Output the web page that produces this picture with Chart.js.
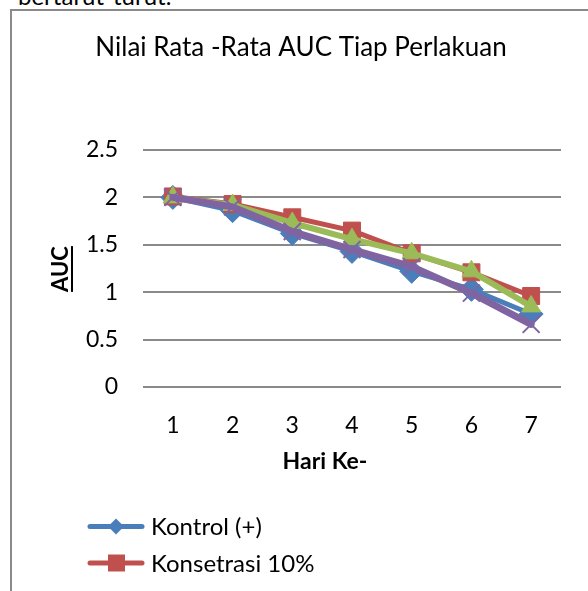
<!DOCTYPE html>
<html>
<head>
<meta charset="utf-8">
<script src="https://cdn.jsdelivr.net/npm/chart.js@4.4.0/dist/chart.umd.min.js"></script>
<style>
    html, body { margin: 0; padding: 0; background: #fff; overflow: hidden; }
    #page { position: relative; width: 588px; height: 591px; overflow: hidden; }
    #above { position: absolute; left: 18px; top: -16px; font: 24px Lato, sans-serif; line-height: 24px; color: #000; }
    #box { position: absolute; left: 10px; top: 9px; width: 600px; height: 600px; border-top: 2px solid #8a8a8a; border-left: 2px solid #8a8a8a; }
    #chartCanvas { position: absolute; left: 0; top: 0; }
</style>
</head>
<body>
<div id="page">
    <div id="above">bertarut-turut.</div>
    <div id="box"></div>
    <canvas id="chartCanvas" width="588" height="591"></canvas>
</div>
<script>
// data
var days = ['1', '2', '3', '4', '5', '6', '7'];
var seriesNames = ['Kontrol (+)', 'Konsetrasi 10%', 'Konsetrasi 20%', 'Konsetrasi 30%'];
var kontrol = [2.00, 1.86, 1.62, 1.43, 1.22, 1.03, 0.77];
var konsentrasi10 = [2.01, 1.93, 1.79, 1.65, 1.41, 1.21, 0.96];
var konsentrasi20 = [2.00, 1.92, 1.73, 1.56, 1.41, 1.22, 0.85];
var konsentrasi30 = [2.00, 1.90, 1.64, 1.45, 1.27, 0.99, 0.66];
var yTicks = [0, 0.5, 1, 1.5, 2, 2.5];

var colors = ['#4a7ebb', '#c0504d', '#9bbb59', '#8064a2'];
var markers = ['rectRot', 'rect', 'triangle', 'crossRot'];
var values = [kontrol, konsentrasi10, konsentrasi20, konsentrasi30];
var widths = [5, 5, 6, 7];
var radii = [12, 12, 11, 12];

var FONT = 'Lato, "Noto Sans", sans-serif';

var datasets = [];
for (var i = 0; i < values.length; i++) {
    datasets.push({
        label: seriesNames[i],
        data: values[i],
        borderColor: colors[i],
        backgroundColor: colors[i],
        pointBackgroundColor: colors[i],
        pointBorderColor: colors[i],
        pointBorderWidth: i === 3 ? 2 : 1,
        pointStyle: markers[i],
        pointRadius: radii[i],
        pointHoverRadius: radii[i],
        borderWidth: widths[i],
        borderCapStyle: 'round',
        borderJoinStyle: 'round',
        tension: 0,
        order: 3 - i   // purple on top, like excel
    });
}

// titles + legend (excel style)
var textPlugin = {
    id: 'excelText',
    afterDraw: function (chart) {
        var ctx = chart.ctx;
        ctx.save();
        ctx.fillStyle = '#000';
        ctx.textAlign = 'center';
        ctx.textBaseline = 'alphabetic';

        ctx.font = '26px ' + FONT;
        ctx.fillText('Nilai Rata -Rata AUC Tiap Perlakuan', 301, 56);

        ctx.font = 'bold 23px ' + FONT;
        ctx.fillText('Hari Ke-', 325, 469);

        // y title, rotated and underlined
        ctx.save();
        ctx.translate(68, 269);
        ctx.rotate(-Math.PI / 2);
        ctx.font = 'bold 22px ' + FONT;
        var w = ctx.measureText('AUC').width;
        ctx.fillText('AUC', 0, 0);
        ctx.fillRect(-w / 2, 3, w, 2);
        ctx.restore();

        // legend
        var rows = [526.5, 563];
        ctx.textAlign = 'left';
        ctx.font = '24px ' + FONT;
        for (var i = 0; i < rows.length; i++) {
            var y = rows[i];
            ctx.strokeStyle = colors[i];
            ctx.fillStyle = colors[i];
            ctx.lineWidth = 5;
            ctx.lineCap = 'round';
            ctx.beginPath();
            ctx.moveTo(90, y);
            ctx.lineTo(142, y);
            ctx.stroke();
            ctx.beginPath();
            if (markers[i] === 'rectRot') {
                ctx.moveTo(116, y - 8);
                ctx.lineTo(124, y);
                ctx.lineTo(116, y + 8);
                ctx.lineTo(108, y);
            } else {
                ctx.rect(108, y - 8.5, 17, 17);
            }
            ctx.closePath();
            ctx.fill();
            ctx.fillStyle = '#000';
            ctx.fillText(datasets[i].label, 151, y + 8.5);
        }
        ctx.restore();
    }
};

var ctx1 = document.getElementById('chartCanvas').getContext('2d');
new Chart(ctx1, {
    type: 'line',
    data: { labels: days, datasets: datasets },
    options: {
        responsive: false,
        animation: false,
        events: [],
        layout: { padding: { top: 150, left: 0, right: 27, bottom: 0 } },
        plugins: {
            legend: { display: false },
            title: { display: false },
            tooltip: { enabled: false }
        },
        scales: {
            x: {
                type: 'category',
                offset: true,
                grid: { display: false },
                border: { display: false },
                ticks: { color: '#000', font: { family: FONT, size: 23 }, padding: 17, maxRotation: 0 },
                afterFit: function (scale) { scale.height = 204; }
            },
            y: {
                min: 0,
                max: 2.5,
                afterBuildTicks: function (scale) {
                    scale.ticks = yTicks.map(function (v) { return { value: v }; });
                },
                grid: { color: '#8a8a8a', lineWidth: 2, drawTicks: false },
                border: { display: false },
                ticks: {
                    color: '#000',
                    font: { family: FONT, size: 23 },
                    padding: 25,
                    callback: function (value) { return String(value); }
                },
                afterFit: function (scale) { scale.width = 143; }
            }
        }
    },
    plugins: [textPlugin]
});
</script>
</body>
</html>
